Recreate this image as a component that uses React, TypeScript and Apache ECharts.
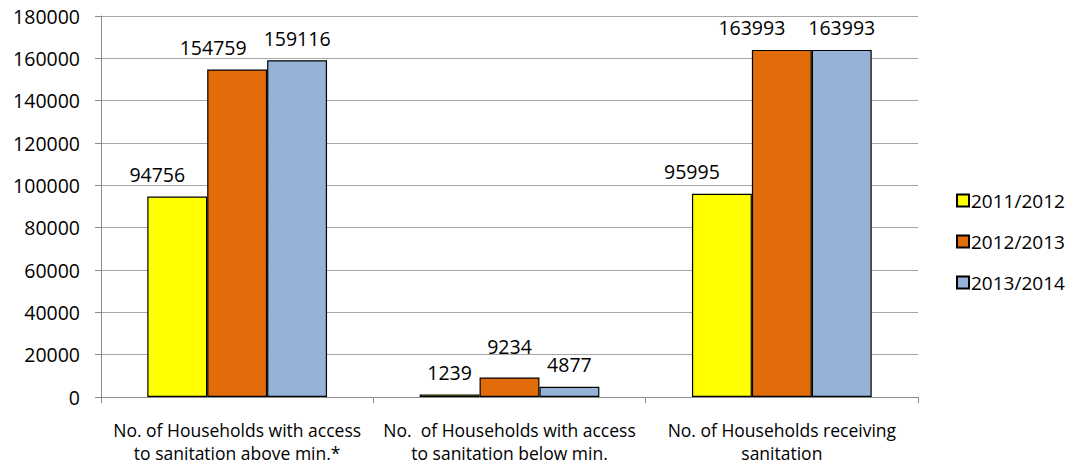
import React, { useEffect, useRef } from "react";
import * as echarts from "echarts";

const categories = [
  "No. of Households with access\nto sanitation above min.*",
  "No.  of Households with access\nto sanitation below min.",
  "No. of Households receiving\nsanitation",
];
const seriesNames = ["2011/2012", "2012/2013", "2013/2014"];
const values2011 = [94756, 1239, 95995];
const values2012 = [154759, 9234, 163993];
const values2013 = [159116, 4877, 163993];
const colors = ["#FFFF00", "#E36C0A", "#95B3D7"];
const FONT = "Open Sans";

export default function App() {
  const ref = useRef<HTMLDivElement>(null);
  useEffect(() => {
    if (!ref.current) return;
    const chart = echarts.init(ref.current, undefined, { renderer: "svg" });
    const data = [values2011, values2012, values2013];
    // label nudges (as placed in the original chart), by series then category
    const labelNudge: number[][][] = [
      [[-20, 0], [0, 0], [-30, 0]],
      [[-24, 0], [0, -9], [-30, 0]],
      [[0, 0], [0, 0], [0, 0]],
    ];
    chart.setOption({
      animation: false,
      textStyle: { fontFamily: FONT },
      grid: { left: 101, right: 155, top: 16, bottom: 71 },
      legend: {
        orient: "vertical",
        left: 951,
        top: 186,
        itemWidth: 12,
        itemHeight: 12,
        itemGap: 22,
        icon: "rect",
        data: seriesNames,
        textStyle: { fontFamily: FONT, fontSize: 19, color: "#000", padding: [0, 0, 0, -3] },
      },
      xAxis: {
        type: "category",
        data: categories,
        axisLine: { lineStyle: { color: "#8c8c8c" } },
        axisTick: { show: true, length: 6, lineStyle: { color: "#8c8c8c" } },
        axisLabel: {
          interval: 0,
          color: "#000",
          fontFamily: FONT,
          fontSize: 17.5,
          lineHeight: 23,
          margin: 21,
        },
      },
      yAxis: {
        type: "value",
        min: 0,
        max: 180000,
        interval: 20000,
        axisLine: { show: true, lineStyle: { color: "#8c8c8c" } },
        axisTick: { show: true, length: 6, lineStyle: { color: "#8c8c8c" } },
        splitLine: { lineStyle: { color: "#a6a6a6" } },
        axisLabel: {
          color: "#000",
          fontFamily: FONT,
          fontSize: 19.5,
          margin: 21,
          formatter: (v: number) => String(v),
        },
      },
      series: seriesNames.map((name, i) => ({
        name,
        type: "bar",
        data: data[i].map((v, j) => ({
          value: v,
          label: { offset: labelNudge[i][j] },
        })),
        barGap: "0%",
        barCategoryGap: "34%",
        itemStyle: { color: colors[i], borderColor: "#000", borderWidth: 1.2 },
        label: {
          show: true,
          position: "top",
          distance: 12,
          color: "#000",
          fontFamily: FONT,
          fontSize: 19.5,
        },
      })),
    });
    return () => chart.dispose();
  }, []);
  return <div ref={ref} style={{ width: 1073, height: 468, margin: -8 }} />;
}
